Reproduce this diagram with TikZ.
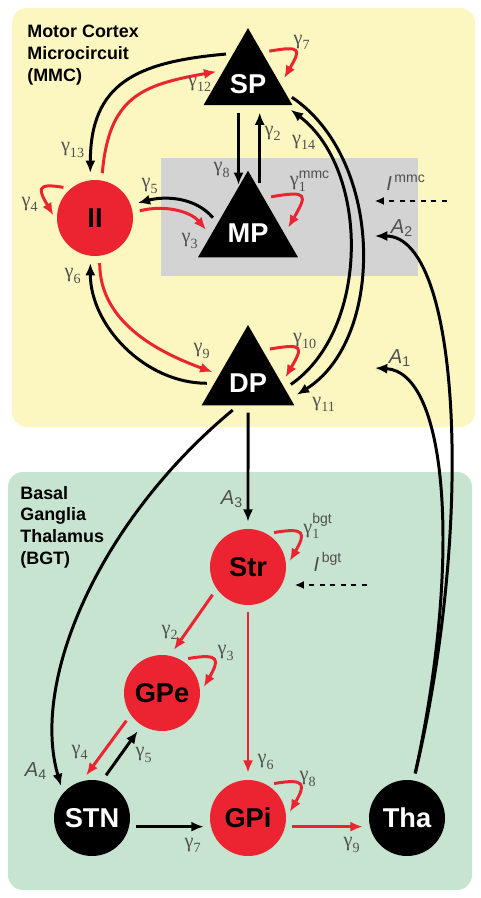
\documentclass[tikz,border=0pt]{standalone}
\usepackage{fontspec}
\setmainfont{Liberation Sans}
\setsansfont{Liberation Sans}
\newfontfamily\grk{Liberation Serif}
\usepackage{tikz}
\usetikzlibrary{shapes.geometric,arrows.meta,positioning}
\usepackage{xcolor}

\definecolor{mmcyellow}{RGB}{252,247,192}
\definecolor{bgtgreen}{RGB}{199,228,208}
\definecolor{inputgray}{RGB}{211,211,211}
\definecolor{cellred}{RGB}{236,35,48}
\definecolor{labgray}{RGB}{80,80,80}

\newcommand\subsz{\fontsize{8}{9}\selectfont}
\newcommand\gm[1]{$\mbox{\grk γ}_{\mbox{\grk\subsz #1}}$}
\newcommand\gmx[2]{$\mbox{\grk γ}_{\mbox{\grk\subsz #1}}^{\mbox{\subsz #2}}$}
\newcommand\amp[1]{$\mbox{\itshape A}_{\mbox{\subsz #1}}$}
\newcommand\ext[1]{$\mbox{\itshape I}^{\,\mbox{\subsz #1}}$}

\begin{document}
\begin{tikzpicture}[x=0.02cm,y=-0.02cm,
    cellfont/.style={font=\fontsize{15.5}{17}\selectfont\bfseries},
    pyr/.style={regular polygon,regular polygon sides=3,fill=black,text=white,
      minimum size=2.02cm,inner sep=0pt,text height=16pt,text depth=0pt,cellfont},
    redcell/.style={circle,fill=cellred,minimum size=1.52cm,inner sep=0pt,cellfont},
    blkcell/.style={circle,fill=black,text=white,minimum size=1.52cm,inner sep=0pt,cellfont},
    title/.style={anchor=north west,align=left,inner sep=0pt,
      font=\fontsize{10.2}{12.3}\selectfont\bfseries},
    lab/.style={text=labgray,inner sep=0pt,font=\fontsize{11.5}{13}\selectfont},
    link/.style={line width=1.7pt,-{Latex[length=7pt,width=5.8pt]},
      shorten >=4pt,shorten <=4pt},
    inh/.style={link,cellred},
    ext/.style={line width=0.8pt,dashed,-{Latex[length=5pt,width=4.5pt]}}]
  \useasboundingbox (0,0) rectangle (480,898);

  % panels
  \fill[mmcyellow,rounded corners=0.3cm] (12,8) rectangle (475,427);
  \fill[bgtgreen,rounded corners=0.3cm] (8,472) rectangle (472,890);
  \fill[inputgray] (161,158) rectangle (418,276);
  \node[title] (mmc title) at (27,25) {Motor Cortex\\Microcircuit\\(MMC)};
  \node[title] (bgt title) at (20,486) {Basal\\Ganglia\\Thalamus\\(BGT)};

  % cells
  \node[pyr] (sp) at (248,79.5) {SP};
  \node[pyr] (mp) at (248,228.5) {MP};
  \node[pyr] (dp) at (248,378.5) {DP};
  \node[redcell] (ii) at (95,218) {II};
  \node[redcell] (str) at (248,567) {Str};
  \node[redcell] (gpe) at (162,693) {GPe};
  \node[blkcell] (stn) at (92,818) {STN};
  \node[redcell] (gpi) at (248,818) {GPi};
  \node[blkcell] (tha) at (407,818) {Tha};

  % inputs
  \coordinate (a1) at (375,368);
  \coordinate (a2) at (375,236);
  \coordinate (immc) at (447,201);
  \coordinate (immc end) at (375,201);
  \coordinate (ibgt) at (367,585);
  \coordinate (ibgt end) at (295,585);

  % MMC connections
  \draw[inh] (sp.62) to[out=10,in=60,looseness=2.8] (sp.-8);
  \draw[link] (sp.120) to[out=185,in=90,looseness=1.3] (ii.97);
  \draw[inh] (ii.80) to[out=85,in=190,looseness=1.3] (sp.160);
  \draw[inh] (ii.130) to[out=170,in=120,looseness=2.6] (ii.185);
  \draw[link] (sp.250) -- (sp.250 |- mp.109);
  \draw[link] (mp.73) -- (mp.73 |- sp.292);
  \draw[link] (mp.170) to[out=130,in=15] (ii.20);
  \draw[inh] (ii.8) to[out=15,in=130] (mp.190);
  \draw[inh] (mp.62) to[out=10,in=60,looseness=2.8] (mp.-8);
  \draw[link] (sp.340) .. controls (385,160) and (385,340) .. (dp.335);
  \draw[link] (dp.345) .. controls (370,330) and (370,170) .. (sp.325);
  \draw[inh] (dp.62) to[out=10,in=60,looseness=2.8] (dp.-8);
  \draw[inh] (ii.277) to[out=-90,in=160] (dp.172);
  \draw[link] (dp.188) to[out=180,in=-90] (ii.263);
  \draw[ext] (immc) -- (immc end);

  % BGT connections
  \draw[link] (dp.south) -- (str.north);
  \draw[link] (dp.250) .. controls (100,520) and (30,680) .. (stn.139);
  \draw[inh] (str.60) to[out=10,in=60,looseness=2.6] (str.0);
  \draw[inh] (str.215) -- (gpe.78);
  \draw[inh] (str.south) -- (gpi.north);
  \draw[inh] (gpe.60) to[out=10,in=60,looseness=2.6] (gpe.0);
  \draw[inh] (gpe.215) -- (stn.105);
  \draw[link] (stn.75) -- (gpe.238);
  \draw[link] (stn.-13) -- (gpi.193);
  \draw[inh] (gpi.60) to[out=10,in=60,looseness=2.6] (gpi.0);
  \draw[inh] (gpi.-13) -- (tha.193);
  \draw[link,shorten >=0pt] (tha.80) .. controls (475,520) and (460,236) .. (a2);
  \draw[link,shorten >=0pt] (tha.80) .. controls (462,560) and (448,372) .. (a1);
  \draw[ext] (ibgt) -- (ibgt end);

  % weights
  \node[lab] (g mmc7) at (302,42) {\gm{7}};
  \node[lab] (g mmc12) at (200,84) {\gm{12}};
  \node[lab] (g mmc13) at (73,150) {\gm{13}};
  \node[lab] (g mmc4) at (30,204) {\gm{4}};
  \node[lab] (g mmc5) at (150,186) {\gm{5}};
  \node[lab] (g mmc3) at (190,241) {\gm{3}};
  \node[lab] (g mmc8) at (222,170) {\gm{8}};
  \node[lab] (g mmc2) at (273,133) {\gm{2}};
  \node[lab] (g mmc14) at (304,142) {\gm{14}};
  \node[lab] (g mmc1) at (310,181) {\gmx{1}{mmc}};
  \node[lab] (i mmc) at (406,183) {\ext{mmc}};
  \node[lab] (a2 label) at (402,228) {\amp{2}};
  \node[lab] (g mmc10) at (305,341) {\gm{10}};
  \node[lab] (g mmc11) at (324,404) {\gm{11}};
  \node[lab] (a1 label) at (400,358) {\amp{1}};
  \node[lab] (g mmc9) at (202,351) {\gm{9}};
  \node[lab] (g mmc6) at (73,276) {\gm{6}};
  \node[lab] (a3 label) at (232,499) {\amp{3}};
  \node[lab] (g bgt1) at (318,526) {\gmx{1}{bgt}};
  \node[lab] (i bgt) at (328,562) {\ext{bgt}};
  \node[lab] (g bgt2) at (170,632) {\gm{2}};
  \node[lab] (g bgt3) at (226,653) {\gm{3}};
  \node[lab] (g bgt6) at (266,762) {\gm{6}};
  \node[lab] (g bgt8) at (308,779) {\gm{8}};
  \node[lab] (g bgt4) at (80,752) {\gm{4}};
  \node[lab] (g bgt5) at (144,755) {\gm{5}};
  \node[lab] (a4 label) at (36,771) {\amp{4}};
  \node[lab] (g bgt7) at (193,845) {\gm{7}};
  \node[lab] (g bgt9) at (352,845) {\gm{9}};
\end{tikzpicture}
\end{document}
